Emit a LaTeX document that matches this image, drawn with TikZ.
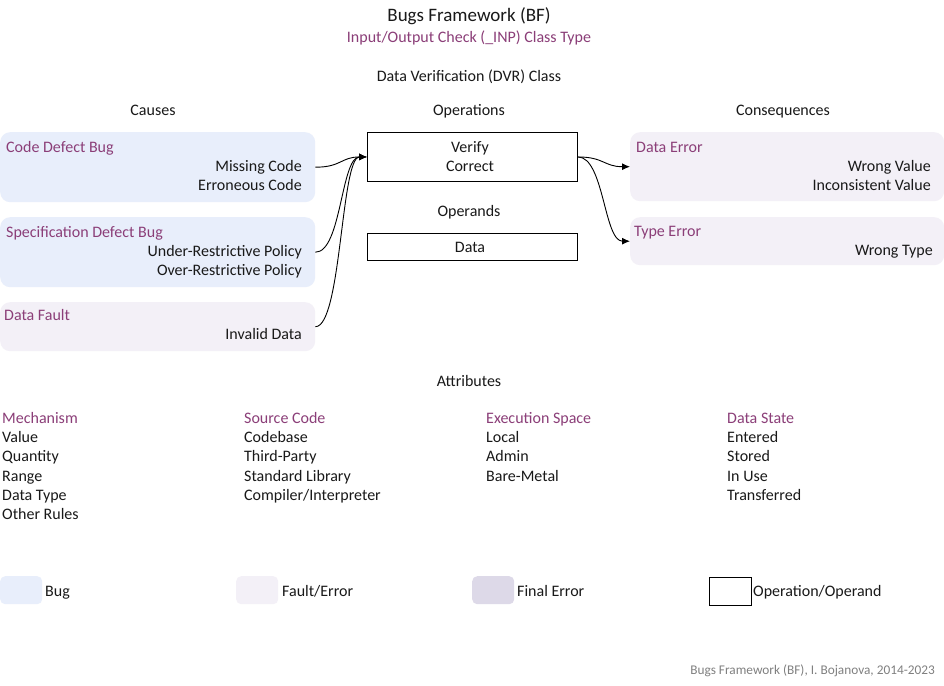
\documentclass[tikz,border=0pt]{standalone}
\usepackage{fontspec}
\setmainfont{Carlito}
\usetikzlibrary{arrows.meta}
\definecolor{bugblue}{RGB}{232,238,251}
\definecolor{faultlav}{RGB}{243,240,247}
\definecolor{finalerr}{RGB}{221,217,232}
\definecolor{bfpurple}{RGB}{139,62,120}
\definecolor{footgray}{RGB}{128,128,128}
\definecolor{bodytxt}{RGB}{25,25,25}
\begin{document}
\begin{tikzpicture}[x=1pt,y=-1pt,
  lbl/.style={inner sep=0pt, font=\fontsize{16}{19}\selectfont, text=bodytxt, yshift=-3.3pt},
  hdr/.style={lbl, text=bfpurple},
  lw/.style={lbl, anchor=mid west},
  le/.style={lbl, anchor=mid east},
  lc/.style={lbl, anchor=mid},
  hw/.style={hdr, anchor=mid west},
  bugbox/.style={fill=bugblue, rounded corners=10pt, inner sep=0pt, anchor=north west},
  faultbox/.style={fill=faultlav, rounded corners=10pt, inner sep=0pt, anchor=north west},
  opbox/.style={draw=black, line width=0.9pt, fill=white, inner sep=0pt, anchor=north west},
  arr/.style={draw=black, line width=0.9pt, -{Latex[length=8pt,width=7pt]}},
  legsq/.style={rounded corners=5pt, inner sep=0pt, anchor=north west, minimum width=42pt, minimum height=28pt}
]
\useasboundingbox (0,0) rectangle (944,685);
\fill[white] (0,0) rectangle (944,685);

% titles
\node[lc, font=\fontsize{19}{22}\selectfont] (title) at (469,16) {Bugs Framework (BF)};
\node[lc, text=bfpurple] (subtitle) at (469,37) {Input/Output Check (\_INP) Class Type};
\node[lc] (cls) at (469,76) {Data Verification (DVR) Class};
\node[lc] (causes) at (153,110) {Causes};
\node[lc] (opers) at (469,110) {Operations};
\node[lc] (conseq) at (783,110) {Consequences};

% cause boxes
\node[bugbox, minimum width=315pt, minimum height=70pt] (cdb) at (0,132) {};
\node[hw] (cdbT) at (6,147) {Code Defect Bug};
\node[le] (cdb1) at (302,166) {Missing Code};
\node[le] (cdb2) at (302,185) {Erroneous Code};

\node[bugbox, minimum width=315pt, minimum height=70pt] (sdb) at (0,217) {};
\node[hw] (sdbT) at (6,232) {Specification Defect Bug};
\node[le] (sdb1) at (302,251) {Under-Restrictive Policy};
\node[le] (sdb2) at (302,270) {Over-Restrictive Policy};

\node[faultbox, minimum width=315pt, minimum height=49pt] (df) at (0,302) {};
\node[hw] (dfT) at (4,315) {Data Fault};
\node[le] (df1) at (302,334) {Invalid Data};

% operation / operand boxes
\node[opbox, minimum width=210pt, minimum height=49pt] (op) at (367,132) {};
\node[lc] (op1) at (470,147) {Verify};
\node[lc] (op2) at (470,166) {Correct};
\node[lc] (operands) at (469,211) {Operands};
\node[opbox, minimum width=210pt, minimum height=27pt] (opd) at (367,233) {};
\node[lc] (opd1) at (470,247) {Data};

% consequence boxes
\node[faultbox, minimum width=314pt, minimum height=69pt] (de) at (630,132) {};
\node[hw] (deT) at (636,147) {Data Error};
\node[le] (de1) at (931,166) {Wrong Value};
\node[le] (de2) at (931,185) {Inconsistent Value};

\node[faultbox, minimum width=314pt, minimum height=48pt] (te) at (630,217) {};
\node[hw] (teT) at (634,231) {Type Error};
\node[le] (te1) at (933,250) {Wrong Type};

% connectors
\draw[arr] (cdb.east) .. controls +(26,0) and +(-26,0) .. (op.west);
\draw[arr] (sdb.east) .. controls +(26,0) and +(-26,0) .. (op.west);
\draw[arr] (df.east) .. controls +(26,0) and +(-26,0) .. (op.west);
\draw[arr] (op.east) .. controls +(26,0) and +(-26,0) .. (de.west);
\draw[arr] (op.east) .. controls +(26,0) and +(-26,0) .. (te.west);

% attributes
\node[lc] (attr) at (469,381) {Attributes};
\node[hw] (a1) at (2,418) {Mechanism};
\node[lw] at (2,437) {Value};
\node[lw] at (2,456) {Quantity};
\node[lw] at (2,476) {Range};
\node[lw] at (2,495) {Data Type};
\node[lw] at (2,514) {Other Rules};

\node[hw] (a2) at (244,418) {Source Code};
\node[lw] at (244,437) {Codebase};
\node[lw] at (244,456) {Third-Party};
\node[lw] at (244,476) {Standard Library};
\node[lw] at (244,495) {Compiler/Interpreter};

\node[hw] (a3) at (486,418) {Execution Space};
\node[lw] at (486,437) {Local};
\node[lw] at (486,456) {Admin};
\node[lw] at (486,476) {Bare-Metal};

\node[hw] (a4) at (727,418) {Data State};
\node[lw] at (727,437) {Entered};
\node[lw] at (727,456) {Stored};
\node[lw] at (727,476) {In Use};
\node[lw] at (727,495) {Transferred};

% legend
\node[legsq, fill=bugblue] (lg1) at (0,576) {};
\node[lw] (lg1t) at (45,591) {Bug};
\node[legsq, fill=faultlav] (lg2) at (236,576) {};
\node[lw] (lg2t) at (282,591) {Fault/Error};
\node[legsq, fill=finalerr] (lg3) at (472,576) {};
\node[lw] (lg3t) at (517,591) {Final Error};
\node[legsq, rounded corners=0pt, draw=black, line width=0.9pt, fill=white] (lg4) at (709,577) {};
\node[lw] (lg4t) at (753,591) {Operation/Operand};

% footer
\node[lbl, anchor=mid east, text=footgray, font=\fontsize{13.3}{16}\selectfont, yshift=0.6pt] (foot) at (935,669) {Bugs Framework (BF), I. Bojanova, 2014-2023};
\end{tikzpicture}
\end{document}
